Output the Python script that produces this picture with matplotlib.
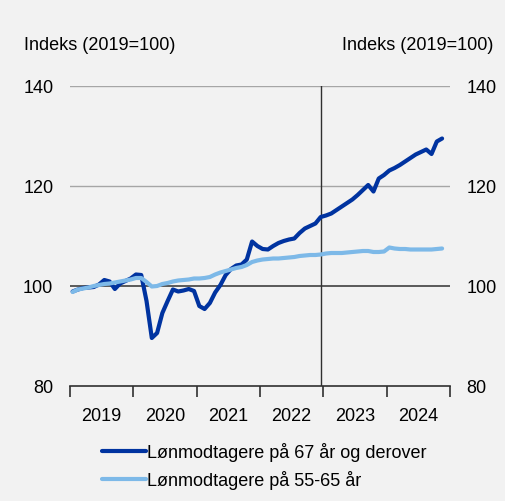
import numpy as np
import matplotlib
matplotlib.use("Agg")
import matplotlib.pyplot as plt

plt.rcParams['font.family'] = ['Liberation Sans', 'DejaVu Sans']

# monthly data Jan 2019 - Nov 2024, index 2019=100
age67 = [98.9, 99.3, 99.6, 99.7, 99.8, 100.3, 101.2, 100.9, 99.4, 100.5, 101.0, 101.5,
         102.3, 102.2, 97.0, 89.6, 90.6, 94.6, 97.0, 99.3, 98.9, 99.1, 99.4, 99.0,
         96.0, 95.4, 96.6, 98.7, 100.2, 102.2, 103.4, 104.1, 104.3, 105.3, 108.9, 108.0,
         107.4, 107.3, 108.0, 108.6, 109.0, 109.3, 109.5, 110.6, 111.5, 112.0, 112.5, 113.8,
         114.1, 114.5, 115.2, 115.9, 116.6, 117.3, 118.2, 119.2, 120.2, 118.9, 121.5, 122.2,
         123.1, 123.6, 124.2, 124.9, 125.6, 126.3, 126.8, 127.3, 126.4, 128.9, 129.5]
age55_65 = [98.8, 99.3, 99.5, 99.7, 100.0, 100.2, 100.4, 100.5, 100.7, 100.9, 101.1, 101.3,
            101.6, 101.6, 100.8, 99.9, 100.0, 100.4, 100.6, 100.9, 101.1, 101.2, 101.3, 101.5,
            101.5, 101.6, 101.8, 102.3, 102.7, 103.0, 103.3, 103.6, 103.8, 104.2, 104.8, 105.1,
            105.3, 105.4, 105.5, 105.5, 105.6, 105.7, 105.8, 106.0, 106.1, 106.2, 106.2, 106.3,
            106.5, 106.6, 106.6, 106.6, 106.7, 106.8, 106.9, 107.0, 107.0, 106.8, 106.8, 106.9,
            107.7, 107.5, 107.4, 107.4, 107.3, 107.3, 107.3, 107.3, 107.3, 107.4, 107.5]
years = [2019, 2020, 2021, 2022, 2023, 2024]
label_dark = "Lønmodtagere på 67 år og derover"
label_light = "Lønmodtagere på 55-65 år"

# x position: middle of each month
x = 2019 + (np.arange(len(age67)) + 0.5) / 12
x_marker = 2022 + 11.5 / 12  # Dec 2022

bg = "#f2f2f2"
dark = "#0033a0"
light = "#7db9e8"

fig = plt.figure(figsize=(5.06, 5.02), dpi=100, facecolor=bg)
ax = fig.add_axes([70/506, 1 - 387/502, 380/506, 300/502], facecolor=bg)

ax.set_ylim(80, 140)
ax.set_xlim(2019, 2025)

for v in [120, 140]:
    ax.axhline(v, color="#a6a6a6", lw=1, zorder=1)
ax.axhline(100, color="#404040", lw=1.2, zorder=1)
ax.axvline(x_marker, color="#303030", lw=1, zorder=1)

ax.plot(x, age67, color=dark, lw=3, label=label_dark, zorder=3, solid_capstyle="round")
ax.plot(x, age55_65, color=light, lw=3, label=label_light, zorder=4, solid_capstyle="round")

for s in ["top", "left", "right"]:
    ax.spines[s].set_visible(False)
ax.spines["bottom"].set_color("#303030")
ax.spines["bottom"].set_linewidth(1.2)

ax.set_yticks([80, 100, 120, 140])
ax.tick_params(axis="y", length=0, pad=12, labelsize=13, labelleft=True, labelright=True)

ax.set_xticks(list(years) + [2025])
ax.set_xticklabels([])
ax.set_xticks([yr + 0.5 for yr in years], minor=True)
ax.set_xticklabels([str(yr) for yr in years], minor=True, fontsize=13)
ax.tick_params(axis="x", which="major", length=8, width=1.2, color="#303030")
ax.tick_params(axis="x", which="minor", length=0, pad=15)

fig.text(24/506, 1 - 45/502, "Indeks (2019=100)", fontsize=13, ha="left", va="center")
fig.text(493/506, 1 - 45/502, "Indeks (2019=100)", fontsize=13, ha="right", va="center")

leg = fig.legend(loc="upper left", bbox_to_anchor=(95/506, 1 - 436/502), frameon=False,
                 fontsize=13, handlelength=2.4, handletextpad=0.1, labelspacing=0.5,
                 borderaxespad=0)
for line in leg.get_lines():
    line.set_linewidth(3)

fig.savefig("out.png", dpi=100, facecolor=bg)
